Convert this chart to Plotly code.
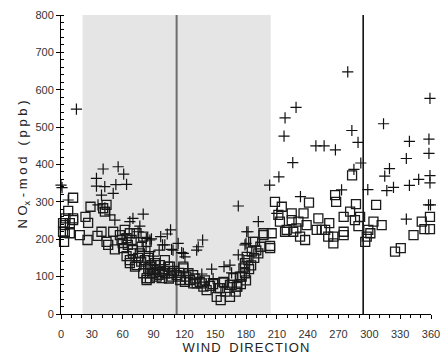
import plotly.graph_objects as go

# Open squares (NOx-mod, series 1)
sq_x = [2, 3.7, 3, 7, 11.8, 8.6, 11.8, 8.6, 18.3, 4.4, 11.8, 3.7, 2,
        25.8, 23.8, 28.7, 26.4, 35.5, 39.4, 44.3, 41, 42.7, 44.3, 45.9, 50.8, 52.4, 57.3, 58.9, 60.5,
        63.8, 67, 62, 68.7, 70, 72, 76.7, 78.4, 81.6, 83.3, 84.8, 88, 86.5, 83.3, 80, 73.5, 67, 63.8,
        83.3, 93, 86.5, 96.2, 104.4, 107.6, 116, 119, 125.5, 128.6, 132, 137, 141.7, 153, 151.5, 164.4,
        158, 166, 171, 175.8, 180.7, 179, 91.4, 101, 80, 73.5, 67, 70, 90,
        96.2, 90, 106, 101, 112.5, 119, 124, 120.6, 128.7, 135, 138.5, 155.4, 154.7, 158.6, 164.4,
        171.6, 167.7, 174, 177.5, 179, 86.5, 98, 107.6, 116,
        179, 182.3, 185.6, 188.8, 192, 197, 203.4, 205, 208.2, 214.8, 211.5, 213, 219.6, 224.5, 226,
        232.6, 236, 239, 237.5, 241.3, 231, 250.4, 253.7, 261, 260, 265, 266.7, 267.7, 275, 275, 281.3,
        283.2, 287, 286, 289.4, 291, 296, 299, 304, 306.6, 312, 325, 330.6, 343, 351, 353.6, 359, 359,
        297.5, 197, 187, 203.5, 218, 229, 248.8, 257, 265, 275, 224.5, 301,
        60, 65, 75, 78, 85, 92, 95, 100, 105, 110, 115, 122, 130, 140, 145, 148, 160, 170, 175, 180,
        183, 185, 188, 190, 194]
sq_y = [243, 220, 193, 276, 311, 243, 256, 216, 211, 256, 251, 238, 220,
        198, 260, 287, 244, 209, 220, 292, 283, 274, 193, 185, 220, 173, 211, 198, 176,
        155, 136, 225, 198, 171, 127, 162, 180, 144, 96, 122, 131, 109, 193, 207, 216, 216, 203,
        91, 100, 127, 113, 127, 109, 100, 122, 91, 104, 82, 82, 64, 69, 46, 46,
        86, 78, 73, 100, 153, 127, 136, 144, 109, 131, 144, 162, 109,
        131, 118, 127, 109, 104, 127, 109, 86, 82, 86, 73, 37, 69, 84, 78,
        73, 96, 100, 122, 136, 96, 96, 100, 91,
        109, 144, 167, 193, 162, 211, 182, 216, 300, 287, 265, 247, 225, 269, 220,
        207, 269, 238, 198, 298, 247, 256, 225, 243, 207, 189, 318, 300, 260, 211, 274,
        371, 294, 251, 235, 260, 193, 225, 247, 292, 238, 167, 176, 211, 247, 227, 260, 227,
        207, 216, 193, 176, 220, 229, 225, 225, 207, 220, 251, 216,
        190, 185, 150, 140, 150, 120, 105, 115, 95, 115, 110, 100, 95, 90, 75, 80, 60, 60, 80, 90,
        120, 130, 150, 170, 180]

# Plus markers (NOx-mod, series 2)
pl_x = [15, 0, 1, 7,
        41, 55.6, 61, 34.5, 34.5, 42.6, 53.4, 63.8, 39.4, 50.8, 36, 42.7, 47.5, 52.4, 70, 80, 76.7, 67,
        75, 83, 86.5, 80, 86.5,
        172.5, 106.6, 103.4, 97, 88, 98.8, 95.5, 107.6, 114, 117.4, 120.6, 137.8, 132, 133.5, 146.6, 148,
        137, 158.6, 164.4, 166, 172.5, 180.7, 179, 90, 101, 119, 109,
        228.7, 218, 217, 248, 256, 267, 225.5, 212, 203, 233, 192, 182, 273, 279, 210, 313.8, 359, 339,
        358, 283, 289, 358, 336, 291.7, 319.6, 285, 315, 359, 348, 359, 339, 323.5, 317, 298.5, 357.6,
        359.5, 336, 180]
pl_y = [548, 345, 338, 305,
        388, 394, 374, 363, 342, 341, 346, 347, 318, 323, 292, 284, 265, 251, 256, 267, 235, 247,
        220, 202, 198, 180, 167,
        289, 225, 214, 207, 201, 185, 171, 173, 189, 164, 153, 198, 171, 180, 120, 95,
        107, 127, 131, 110, 158, 220, 185, 155, 185, 162, 171,
        553, 525, 476, 450, 450, 439, 405, 367, 345, 314, 247, 220, 332, 648, 269, 509, 577, 462,
        468, 491, 459, 430, 416, 404, 389, 387, 369, 370, 360, 351, 344, 339, 330, 333, 292,
        292, 254, 189]

x_ticks = list(range(0, 361, 30))
y_ticks = list(range(0, 801, 100))

shade_start, shade_end = 21, 204
line_gray_x = 112.5
line_black_x = 294

fig = go.Figure()
fig.add_trace(go.Scatter(x=sq_x, y=sq_y, mode="markers", cliponaxis=False,
                         marker=dict(symbol="square-open", size=9, color="#1a1a1a",
                                     line=dict(width=1.3, color="#1a1a1a"))))
fig.add_trace(go.Scatter(x=pl_x, y=pl_y, mode="markers", cliponaxis=False,
                         marker=dict(symbol="cross-thin", size=8,
                                     line=dict(width=1.2, color="#111111"))))

fig.add_shape(type="rect", xref="x", yref="y", x0=shade_start, x1=shade_end, y0=0, y1=800,
              fillcolor="#e5e5e5", line=dict(width=0), layer="below")
fig.add_shape(type="line", xref="x", yref="y", x0=line_gray_x, x1=line_gray_x, y0=0, y1=800,
              line=dict(color="#6e6e6e", width=2), layer="below")
fig.add_shape(type="line", xref="x", yref="y", x0=line_black_x, x1=line_black_x, y0=0, y1=800,
              line=dict(color="#000000", width=1.5), layer="below")


def spaced(text, sep):
    return sep.join(text)


HS = "\u200a"   # hair space
TS = "\u2009"   # thin space
x_title = HS.join(["W", "I", "N", "D", "\u2002", "D", "I", "R", "E", "C", "T", "I", "O", "N"])
y_title = (TS + HS).join(["N", "O<sub>x</sub>", "-", "m", "o", "d", " ", "(", "p", "p", "b", ")"])

font_family = "Liberation Sans, Arial, sans-serif"
fig.update_layout(
    width=441, height=355,
    margin=dict(l=61, r=10, t=15, b=41),
    paper_bgcolor="white", plot_bgcolor="white",
    showlegend=False,
    font=dict(family=font_family, size=11, color="#333333"),
)
fig.update_xaxes(
    range=[0, 360], tickvals=x_ticks, ticktext=[str(v) for v in x_ticks],
    automargin=False,
    showline=True, linecolor="black", linewidth=1, mirror=False,
    ticks="outside", ticklen=4, tickcolor="black", showgrid=False, zeroline=False,
    ticklabelstandoff=6,
    minor=dict(dtick=10, ticks="outside", ticklen=3, tickcolor="black", showgrid=False),
    title=dict(text=x_title, font=dict(size=13, color="#222222"), standoff=4),
    tickfont=dict(size=11, color="#333333"),
)
fig.update_yaxes(
    range=[0, 800], tickvals=y_ticks, ticktext=[str(v) for v in y_ticks],
    automargin=False,
    showline=True, linecolor="black", linewidth=1,
    ticks="outside", ticklen=4, tickcolor="black", showgrid=False, zeroline=False,
    minor=dict(dtick=20, ticks="inside", ticklen=3, tickcolor="black", showgrid=False),
    title=dict(text=y_title, font=dict(size=13, color="#222222"), standoff=4),
    tickfont=dict(size=11, color="#333333"),
)

fig.write_html("out.html")
